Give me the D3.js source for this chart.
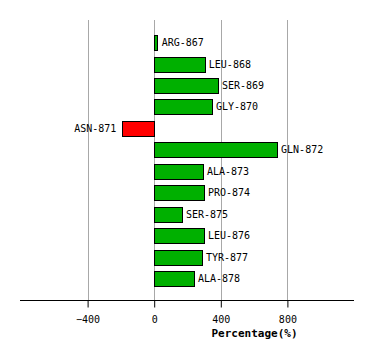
<!DOCTYPE html>
<html><head><meta charset="utf-8">
<script src="https://cdn.jsdelivr.net/npm/d3@7"></script>
<style>body{margin:0;background:#fff}svg{display:block}</style>
</head><body>
<script>
const categories = ["ARG-867","LEU-868","SER-869","GLY-870","ASN-871","GLN-872","ALA-873","PRO-874","SER-875","LEU-876","TYR-877","ALA-878"];
const values = [21, 304, 383, 347, -191, 738, 293, 299, 167, 299, 287, 239];
const tickValues = [-400, 0, 400, 800];
const axisTitle = "Percentage(%)";

const W = 374, H = 360;
const svg = d3.select("body").append("svg").attr("width", W).attr("height", H);
const x = d3.scaleLinear().domain([-800, 1200]).range([21, 354]);
const y = d3.scaleBand().domain(categories).range([31.8, 289.6]).paddingInner(0.3).paddingOuter(0.15);
const font = "'DejaVu Sans Mono', monospace";

// gridlines
svg.append("g").selectAll("line").data(tickValues).join("line")
  .attr("x1", d => Math.round(x(d)) + 0.5).attr("x2", d => Math.round(x(d)) + 0.5)
  .attr("y1", 20).attr("y2", 300)
  .attr("stroke", "#a8a8a8").attr("stroke-width", 1);

// bars
svg.append("g").selectAll("rect").data(values).join("rect")
  .attr("x", d => Math.round(x(Math.min(0, d))) + 0.5)
  .attr("y", (d, i) => Math.round(y(categories[i])) + 0.5)
  .attr("width", d => Math.max(1, Math.round(Math.abs(x(d) - x(0)))))
  .attr("height", Math.round(y.bandwidth()))
  .attr("fill", d => d < 0 ? "#ff0000" : "#00b000")
  .attr("stroke", "#000").attr("stroke-width", 1);

// labels
svg.append("g").selectAll("text").data(values).join("text")
  .attr("x", d => d < 0 ? x(d) - 6 : x(d) + 4)
  .attr("y", (d, i) => y(categories[i]) + y.bandwidth() / 2)
  .attr("dy", "0.35em")
  .attr("text-anchor", d => d < 0 ? "end" : "start")
  .attr("font-family", font).attr("font-size", 10).attr("fill", "#000")
  .text((d, i) => categories[i]);

// axis
const ax = svg.append("g").attr("transform", "translate(0,300.5)")
  .call(d3.axisBottom(x).tickValues(tickValues).tickSize(7).tickPadding(8).tickFormat(d3.format("d")));
ax.select(".domain").attr("d", `M20,0H354`).attr("stroke", "#000");
ax.selectAll(".tick line").attr("stroke", "#000");
ax.selectAll(".tick text").attr("font-family", font).attr("font-size", 10).attr("fill", "#000");

svg.append("text").attr("x", 254.5).attr("y", 337).attr("text-anchor", "middle")
  .attr("font-family", font).attr("font-size", 11).attr("font-weight", "bold")
  .text(axisTitle);
</script>
</body></html>
